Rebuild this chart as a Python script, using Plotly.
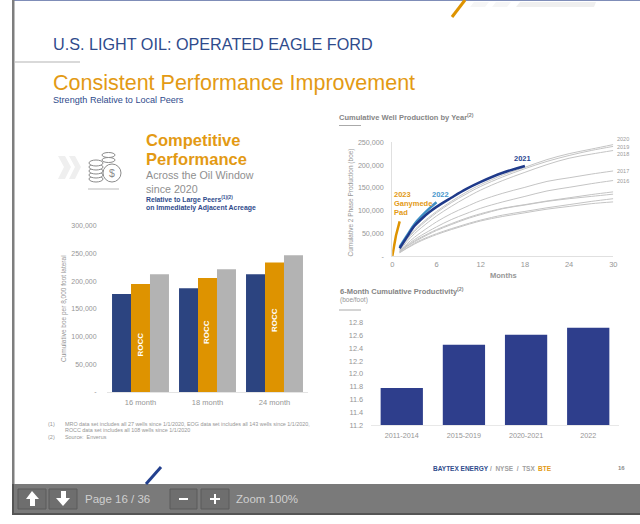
import plotly.graph_objects as go

W, H = 640, 524

# ---- data ----
peer_categories = ["16 month", "18 month", "24 month"]
peer_blue = [177000, 187500, 213000]
peer_orange = [195000, 206000, 234000]
peer_grey = [213000, 222000, 247000]

prod_categories = ["2011-2014", "2015-2019", "2020-2021", "2022"]
prod_values = [11.78, 12.455, 12.61, 12.72]

months_long = [1, 2, 3, 4, 6, 8, 10, 12, 15, 18, 21, 24, 27, 30]
y2020 = [15000, 38000, 57000, 72000, 98000, 120000, 140000, 157000, 178000, 195000, 212000, 225000, 235000, 245000]
y2019 = [14000, 36000, 54000, 69000, 95000, 117000, 136000, 153000, 174000, 192000, 208000, 221000, 232000, 241000]
y2018 = [12000, 32000, 49000, 63000, 88000, 109000, 128000, 145000, 166000, 184000, 201000, 215000, 224000, 232000]
y2017 = [10000, 27000, 41000, 53000, 75000, 93000, 108000, 122000, 138000, 151000, 164000, 172000, 180000, 187000]
y2016 = [10000, 24000, 36000, 46000, 64000, 80000, 93000, 105000, 119000, 131000, 143000, 151000, 159000, 166000]
older_a = [9000, 22000, 33000, 42000, 58000, 71000, 83000, 93000, 105000, 113000, 121000, 128000, 135000, 141000]
older_b = [9000, 21000, 31000, 40000, 56000, 69000, 81000, 91000, 104000, 112000, 120000, 126000, 131000, 136000]
older_c = [8000, 18000, 28000, 36000, 49000, 60000, 70000, 79000, 90000, 98000, 106000, 113000, 120000, 126000]
older_d = [7000, 17000, 26000, 34000, 47000, 58000, 68000, 77000, 87000, 95000, 103000, 109000, 115000, 119000]
grey_series = [y2020, y2019, y2018, y2017, y2016, older_a, older_b, older_c, older_d]

months_2021 = [1, 2, 3, 4, 5, 6, 8, 10, 12, 15, 18]
y2021 = [17000, 42000, 66000, 82000, 96000, 108000, 128000, 147000, 163000, 183000, 198000]
months_2022 = [1, 2, 3, 4, 5, 6]
y2022 = [20000, 45000, 70000, 88000, 104000, 118000]
months_2023 = [0, 0.5, 1]
y2023 = [0, 45000, 76000]

year_end_labels = ["2020", "2019", "2018", "2017", "2016"]

NAVY, ORANGE, GREY = "#2C4480", "#DE9300", "#B3B3B3"
BLUE2 = "#2E3E8C"
TXT = "#969696"
FONT = "Liberation Sans"
CLEAR = "rgba(0,0,0,0)"


def px(x): return x / W
def py(y): return 1 - y / H


fig = go.Figure()

for vals, col in zip([peer_blue, peer_orange, peer_grey], [NAVY, ORANGE, GREY]):
    fig.add_trace(go.Bar(x=peer_categories, y=vals, marker=dict(color=col, line=dict(width=0)),
                         xaxis="x", yaxis="y", showlegend=False))

for s in grey_series:
    fig.add_trace(go.Scatter(x=months_long, y=s, mode="lines", line=dict(color="#C4C4C4", width=1, shape="spline"),
                             xaxis="x2", yaxis="y2", showlegend=False))
fig.add_trace(go.Scatter(x=months_2022, y=y2022, mode="lines", line=dict(color="#3F8FC4", width=2.5, shape="spline"),
                         xaxis="x2", yaxis="y2", showlegend=False))
fig.add_trace(go.Scatter(x=months_2021, y=y2021, mode="lines", line=dict(color="#1F3A8A", width=2.5, shape="spline"),
                         xaxis="x2", yaxis="y2", showlegend=False))
fig.add_trace(go.Scatter(x=months_2023, y=y2023, mode="lines", line=dict(color=ORANGE, width=2.5),
                         xaxis="x2", yaxis="y2", showlegend=False))

fig.add_trace(go.Bar(x=prod_categories, y=prod_values, marker=dict(color=BLUE2, line=dict(width=0)),
                     xaxis="x3", yaxis="y3", width=0.68, showlegend=False))

layout = dict(
    width=W, height=H, autosize=False, margin=dict(l=0, r=0, t=0, b=0, pad=0),
    paper_bgcolor="white", plot_bgcolor="rgba(0,0,0,0)",
    barmode="group", bargap=0.15, bargroupgap=0,
    font=dict(family=FONT),
    xaxis=dict(domain=[px(107), px(308)], anchor="y", showgrid=False, zeroline=False, showline=True, automargin=False,
               linecolor="#E4E4E4", linewidth=1, ticks="outside", ticklen=3, tickcolor=CLEAR,
               tickfont=dict(family=FONT, size=7.5, color=TXT), fixedrange=True),
    yaxis=dict(domain=[py(392), py(226)], anchor="x", range=[0, 300000], showgrid=False, zeroline=False, automargin=False,
               tickvals=[0, 50000, 100000, 150000, 200000, 250000, 300000],
               ticktext=["-", "50,000", "100,000", "150,000", "200,000", "250,000", "300,000"],
               tickfont=dict(family=FONT, size=7, color=TXT), ticks="outside", ticklen=8, tickcolor=CLEAR,
               showline=False, fixedrange=True),
    xaxis2=dict(domain=[px(392.3), px(613.3)], anchor="y2", range=[0, 30], tickvals=[0, 6, 12, 18, 24, 30], automargin=False,
                showgrid=False, zeroline=False, showline=True, linecolor="#E0E0E0", linewidth=1,
                tickfont=dict(family=FONT, size=7.5, color=TXT), ticks="outside", ticklen=1, tickcolor=CLEAR, fixedrange=True),
    yaxis2=dict(domain=[py(256), py(142.3)], anchor="x2", range=[0, 250000], showgrid=False, zeroline=False, automargin=False,
                tickvals=[0, 50000, 100000, 150000, 200000, 250000],
                ticktext=["-", "50,000", "100,000", "150,000", "200,000", "250,000"],
                tickfont=dict(family=FONT, size=7.2, color=TXT), ticks="outside", ticklen=6, tickcolor=CLEAR,
                showline=True, linecolor="#E0E0E0", linewidth=1, fixedrange=True),
    xaxis3=dict(domain=[px(370.7), px(619.3)], anchor="y3", showgrid=False, zeroline=False, showline=True, automargin=False,
                linecolor="#E8E8E8", linewidth=1, tickfont=dict(family=FONT, size=7.2, color=TXT),
                ticks="outside", ticklen=3, tickcolor=CLEAR, fixedrange=True),
    yaxis3=dict(domain=[py(425), py(322.7)], anchor="x3", range=[11.2, 12.8], dtick=0.2, tickformat=".1f", automargin=False,
                showgrid=False, zeroline=False, tickfont=dict(family=FONT, size=7.4, color=TXT),
                ticks="outside", ticklen=5, tickcolor=CLEAR, fixedrange=True),
)

shapes = []


def rect(x0, y0, x1, y1, fill, line=None, lw=0, layer="below"):
    shapes.append(dict(type="rect", xref="paper", yref="paper", x0=px(x0), x1=px(x1), y0=py(y0), y1=py(y1),
                       fillcolor=fill, line=dict(color=line or fill, width=lw), layer=layer))


def seg(x0, y0, x1, y1, col, lw):
    shapes.append(dict(type="line", xref="paper", yref="paper", x0=px(x0), x1=px(x1), y0=py(y0), y1=py(y1),
                       line=dict(color=col, width=lw), layer="above"))


def poly(points, fill):
    path = "M " + " L ".join(f"{px(x):.5f},{py(y):.5f}" for x, y in points) + " Z"
    shapes.append(dict(type="path", xref="paper", yref="paper", path=path, fillcolor=fill,
                       line=dict(width=0), layer="above"))


def ring(cx, cy, rx, ry, col, lw=1):
    shapes.append(dict(type="circle", xref="paper", yref="paper", x0=px(cx - rx), x1=px(cx + rx),
                       y0=py(cy + ry), y1=py(cy - ry), line=dict(color=col, width=lw),
                       fillcolor="white", layer="above"))


rect(13, 0, 640, 1, "#7F8DB8")
rect(12, 0, 14.5, 484, "#7E7E7E")
rect(13, 484, 640, 514, "#7A7A7A")
rect(12, 484, 14, 515, "#555555")
rect(13, 513, 640, 515, "#555555")
seg(15, 62, 80, 62, "#CCCCCC", 1.5)
seg(452, 17, 465, 0, ORANGE, 3)
seg(146, 484, 161, 467, "#23408E", 3)
seg(339, 125.5, 361, 125.5, "#AAAAAA", 1)
seg(339, 310, 361, 310, "#AAAAAA", 1)
poly([(516, 7), (594, 7), (596, 2), (520, 2)], "#EFEFEF")
poly([(470, 7), (485, 7), (489, 2), (474, 2)], "#F6F6F6")
poly([(492, 7), (507, 7), (511, 2), (496, 2)], "#F6F6F6")

for x0, x1 in [(18, 46), (49, 77), (170, 197), (201, 229)]:
    shapes.append(dict(type="rect", xref="paper", yref="paper", x0=px(x0), x1=px(x1), y0=py(489), y1=py(509),
                       fillcolor="#6E6E6E", line=dict(color="#5A5A5A", width=1), layer="above"))
poly([(32, 491), (39, 499), (35, 499), (35, 506), (30, 506), (30, 499), (26, 499)], "white")
poly([(63, 506), (70, 498), (66, 498), (66, 491), (61, 491), (61, 498), (56, 498)], "white")
seg(179, 499, 188, 499, "white", 2)
seg(210, 499, 220, 499, "white", 2)
seg(215, 494, 215, 504, "white", 2)

poly([(58, 156), (65, 156), (71, 167), (65, 179), (58, 179), (64, 167)], "#EFEFEF")
poly([(69, 156), (75, 156), (81, 167), (75, 179), (69, 179), (75, 167)], "#EFEFEF")
ICON = "#8C8C8C"
for cy in [160, 155]:
    ring(108.5, cy, 6.5, 2.5, ICON)
for cy in [179, 175, 171, 167, 163]:
    ring(96, cy, 7, 3, ICON)
ring(112, 173, 9, 9, ICON)
seg(88, 189, 119, 189, "#BBBBBB", 1)

layout["shapes"] = shapes

ann = []


def text(x, y, s, size, color, anchor="left", bold=False, angle=0, va="middle"):
    if bold:
        s = "<b>" + s + "</b>"
    ann.append(dict(xref="paper", yref="paper", x=px(x), y=py(y), text=s, showarrow=False, xanchor=anchor,
                    yanchor=va, textangle=angle, align="left", borderpad=0,
                    font=dict(family=FONT, size=size, color=color)))


NAVYT = "#2F4B8C"
text(52, 44, "U.S. LIGHT OIL: OPERATED EAGLE FORD", 16.2, NAVYT)
text(52, 83, "Consistent Performance Improvement", 21.5, "#E39A14")
text(52, 100, "Strength Relative to Local Peers", 9.1, NAVYT)
text(145, 140, "Competitive", 16.5, "#E39A14", bold=True)
text(145, 159, "Performance", 16.5, "#E39A14", bold=True)
text(145, 175.5, "Across the Oil Window", 10.7, "#8F8F8F")
text(145, 188.5, "since 2020", 10.7, "#8F8F8F")
text(145, 199, "Relative to Large Peers<sup>(1)(2)</sup>", 6.8, NAVYT, bold=True)
text(145, 208, "on Immediately Adjacent Acreage", 6.9, NAVYT, bold=True)
text(64, 309, "Cumulative boe per 8,000 foot lateral", 6.5, TXT, "center", angle=-90)
for x, y in [(139.5, 345), (207, 332), (274, 320)]:
    text(x, y, "ROCC", 8, "white", "center", bold=True, angle=-90)
text(47, 424, "(1)", 5.5, TXT)
text(64, 424, "MRO data set includes all 27 wells since 1/1/2020, EOG data set includes all 143 wells since 1/1/2020,", 5.4, TXT)
text(64, 430, "ROCC data set includes all 108 wells since 1/1/2020", 5.4, TXT)
text(47, 437, "(2)", 5.5, TXT)
text(64, 437, "Source:  Enverus", 5.4, TXT)

text(338, 117, "Cumulative Well Production by Year<sup>(2)</sup>", 7.5, "#858585", bold=True)
text(350, 202.5, "Cumulative 2 Phase Production (boe)", 6.5, TXT, "center", angle=-90)
text(503, 275, "Months", 7.5, TXT, "center", bold=True)
text(393, 194, "2023", 7.5, "#E39A14", bold=True)
text(393, 203, "Ganymede", 7.5, "#E39A14", bold=True)
text(393, 212, "Pad", 7.5, "#E39A14", bold=True)
text(431, 194, "2022", 7.5, "#4A97CC", bold=True)
text(513, 158, "2021", 7.5, "#2A4590", bold=True)
for lbl, y in zip(year_end_labels, [139.5, 146.5, 153.5, 170.5, 181]):
    text(616, y, lbl, 5.5, "#9A9A9A")

text(339, 291, "6-Month Cumulative Productivity<sup>(2)</sup>", 7.5, "#858585", bold=True)
text(339, 300, "(boe/foot)", 6.5, TXT)

text(431.5, 468, "BAYTEX ENERGY", 6.5, "#2F4B8C", bold=True)
text(489, 468, "/  NYSE  /  TSX", 6.5, "#A0A0A0", bold=True)
text(536.5, 468, "BTE", 6.5, "#E39A14", bold=True)
text(617, 468, "16", 6, "#8C8C8C", bold=True)

text(84, 499, "Page 16 / 36", 11.5, "#CFCFCF")
text(235, 499, "Zoom 100%", 11.5, "#CFCFCF")
text(112, 173, "$", 10.5, ICON, "center")
layout["annotations"] = ann

fig.update_layout(**layout)
fig.write_html("out.html", config=dict(displayModeBar=False),
               post_script="document.body.style.margin='0';document.documentElement.style.overflow='hidden';")
